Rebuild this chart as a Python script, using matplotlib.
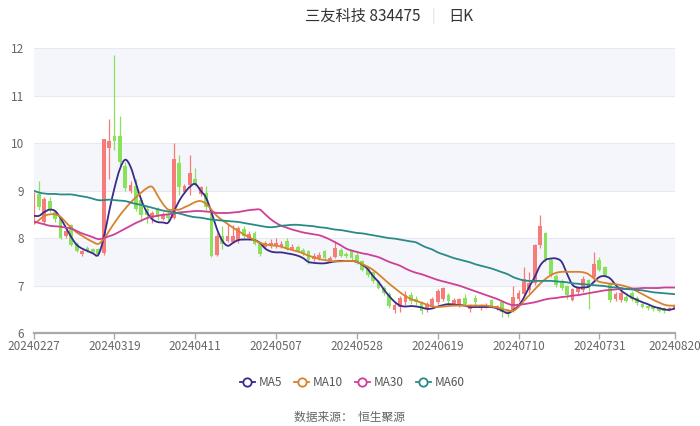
import matplotlib
matplotlib.use('Agg')
import matplotlib.pyplot as plt
from matplotlib.path import Path
from matplotlib.patches import PathPatch
from matplotlib.lines import Line2D

plt.rcParams['font.family'] = ['Noto Sans CJK SC', 'DejaVu Sans']

# daily candles, 20240227 .. 20240820 (120 trading days)
opens = [8.45, 8.92, 8.35, 8.78, 8.56, 8.42, 8.05, 8.28, 7.88, 7.66,
         7.80, 7.78, 7.78, 7.68, 9.90, 10.15, 10.15, 9.52, 9.00, 9.10,
         8.80, 8.62, 8.42, 8.62, 8.40, 8.50, 8.42, 9.58, 8.98, 9.12,
         9.25, 8.92, 8.95, 8.55, 7.64, 8.05, 7.95, 7.92, 7.95, 8.20,
         8.00, 8.10, 7.92, 7.82, 7.84, 7.84, 7.84, 7.95, 7.78, 7.82,
         7.76, 7.72, 7.56, 7.58, 7.72, 7.55, 7.60, 7.75, 7.66, 7.72,
         7.65, 7.52, 7.38, 7.28, 7.10, 6.95, 6.82, 6.48, 6.55, 6.65,
         6.80, 6.72, 6.65, 6.50, 6.58, 6.66, 6.72, 6.80, 6.62, 6.58,
         6.75, 6.50, 6.75, 6.52, 6.55, 6.70, 6.52, 6.65, 6.48, 6.48,
         6.72, 6.82, 6.90, 7.06, 7.85, 8.10, 7.54, 7.20, 7.10, 7.00,
         6.70, 6.86, 6.90, 7.12, 7.18, 7.55, 7.40, 7.05, 6.72, 6.70,
         6.76, 6.85, 6.75, 6.62, 6.58, 6.56, 6.54, 6.52, 6.49, 6.50]
closes = [8.95, 8.65, 8.83, 8.60, 8.40, 8.00, 8.15, 7.86, 7.72, 7.72,
          7.72, 7.70, 7.66, 10.08, 10.05, 10.05, 9.60, 9.06, 9.12, 8.62,
          8.48, 8.48, 8.52, 8.45, 8.50, 8.42, 9.66, 9.08, 9.10, 9.38,
          9.12, 9.08, 8.65, 7.62, 8.05, 7.88, 8.05, 8.05, 8.22, 8.05,
          8.08, 7.88, 7.67, 7.90, 7.90, 7.90, 7.88, 7.78, 7.82, 7.72,
          7.68, 7.55, 7.62, 7.65, 7.58, 7.58, 7.80, 7.62, 7.62, 7.58,
          7.48, 7.32, 7.22, 7.10, 6.95, 6.85, 6.58, 6.60, 6.74, 6.80,
          6.68, 6.65, 6.47, 6.62, 6.72, 6.88, 6.95, 6.68, 6.70, 6.72,
          6.62, 6.60, 6.65, 6.60, 6.60, 6.55, 6.57, 6.45, 6.42, 6.76,
          6.85, 7.14, 7.05, 7.85, 8.26, 7.56, 7.22, 7.02, 6.96, 6.80,
          6.92, 6.95, 7.15, 6.95, 7.45, 7.33, 7.22, 6.70, 6.82, 6.84,
          6.68, 6.72, 6.64, 6.55, 6.52, 6.50, 6.47, 6.47, 6.53, 6.58]
highs = [8.97, 9.20, 8.86, 8.87, 8.60, 8.45, 8.20, 8.30, 7.92, 7.75,
         7.84, 7.80, 7.80, 10.08, 10.50, 11.85, 10.58, 9.60, 9.20, 9.25,
         8.85, 8.68, 8.58, 8.66, 8.55, 8.55, 10.00, 9.75, 9.15, 9.75,
         9.48, 9.10, 9.10, 8.58, 8.10, 8.25, 8.30, 8.28, 8.25, 8.25,
         8.15, 8.15, 7.95, 7.95, 7.98, 8.00, 7.95, 8.00, 7.88, 7.85,
         7.80, 7.76, 7.68, 7.70, 7.76, 7.62, 7.95, 7.80, 7.70, 7.76,
         7.70, 7.55, 7.42, 7.30, 7.12, 7.00, 6.86, 6.65, 6.78, 6.88,
         6.86, 6.78, 6.68, 6.66, 6.76, 6.92, 6.98, 6.85, 6.74, 6.75,
         6.82, 6.62, 6.80, 6.62, 6.64, 6.72, 6.60, 6.68, 6.50, 7.00,
         6.90, 7.40, 7.28, 7.88, 8.48, 8.12, 7.58, 7.25, 7.15, 7.02,
         6.95, 6.98, 7.20, 7.15, 7.70, 7.60, 7.42, 7.08, 6.86, 6.88,
         6.80, 6.88, 6.78, 6.64, 6.60, 6.58, 6.56, 6.54, 6.56, 6.62]
lows = [8.30, 8.60, 8.30, 8.55, 8.35, 7.98, 8.00, 7.84, 7.70, 7.62,
        7.70, 7.68, 7.62, 7.65, 9.25, 9.85, 9.55, 9.00, 8.95, 8.58,
        8.40, 8.32, 8.32, 8.38, 8.38, 8.38, 8.40, 8.90, 8.95, 8.90,
        9.10, 8.88, 8.60, 7.60, 7.62, 7.78, 7.92, 7.90, 7.90, 8.00,
        7.98, 7.85, 7.62, 7.78, 7.80, 7.80, 7.80, 7.75, 7.74, 7.70,
        7.65, 7.45, 7.52, 7.55, 7.55, 7.52, 7.58, 7.60, 7.58, 7.55,
        7.45, 7.30, 7.18, 7.06, 6.92, 6.80, 6.52, 6.42, 6.45, 6.60,
        6.62, 6.60, 6.40, 6.45, 6.55, 6.62, 6.68, 6.62, 6.58, 6.55,
        6.60, 6.45, 6.60, 6.48, 6.52, 6.52, 6.48, 6.35, 6.33, 6.45,
        6.68, 6.78, 6.85, 7.02, 7.80, 7.50, 7.18, 6.98, 6.90, 6.72,
        6.68, 6.82, 6.86, 6.50, 7.08, 7.30, 7.18, 6.66, 6.68, 6.66,
        6.65, 6.68, 6.60, 6.52, 6.48, 6.46, 6.44, 6.42, 6.46, 6.48]

ma5 = [8.47, 8.47, 8.55, 8.60, 8.57, 8.42, 8.22, 8.02, 7.86, 7.78,
       7.73, 7.68, 7.65, 8.00, 8.55, 9.05, 9.45, 9.65, 9.50, 9.15,
       8.80, 8.55, 8.40, 8.34, 8.33, 8.33, 8.55, 8.78, 8.95, 9.08,
       9.14, 9.00, 8.85, 8.55, 8.20, 7.95, 7.84, 7.90, 7.96, 7.97,
       7.97, 7.96, 7.90, 7.78, 7.72, 7.70, 7.70, 7.68, 7.66, 7.63,
       7.58, 7.50, 7.48, 7.47, 7.47, 7.49, 7.51, 7.52, 7.52, 7.52,
       7.50, 7.44, 7.35, 7.20, 7.08, 6.92, 6.78, 6.66, 6.58, 6.56,
       6.57, 6.56, 6.54, 6.51, 6.52, 6.56, 6.59, 6.61, 6.60, 6.59,
       6.58, 6.55, 6.55, 6.55, 6.55, 6.55, 6.52, 6.47, 6.42, 6.48,
       6.58, 6.75, 6.98, 7.18, 7.42, 7.54, 7.57, 7.57, 7.50, 7.25,
       7.02, 6.96, 6.96, 6.98, 7.08, 7.18, 7.20, 7.15, 7.02, 6.90,
       6.82, 6.75, 6.70, 6.65, 6.61, 6.56, 6.53, 6.50, 6.49, 6.52]
ma10 = [8.30, 8.38, 8.47, 8.50, 8.50, 8.45, 8.33, 8.22, 8.12, 8.05,
        7.98, 7.92, 7.88, 7.98, 8.15, 8.32, 8.48, 8.62, 8.75, 8.86,
        8.96, 9.05, 9.08, 8.90, 8.72, 8.60, 8.60, 8.60, 8.65, 8.70,
        8.76, 8.78, 8.72, 8.60, 8.47, 8.38, 8.30, 8.22, 8.15, 8.08,
        8.02, 7.96, 7.90, 7.87, 7.85, 7.84, 7.82, 7.78, 7.75, 7.72,
        7.68, 7.63, 7.60, 7.56, 7.54, 7.52, 7.51, 7.51, 7.52, 7.52,
        7.50, 7.45, 7.40, 7.33, 7.24, 7.14, 7.04, 6.95, 6.86, 6.78,
        6.72, 6.68, 6.64, 6.60, 6.56, 6.55, 6.56, 6.57, 6.58, 6.58,
        6.58, 6.58, 6.58, 6.58, 6.58, 6.56, 6.54, 6.51, 6.48, 6.47,
        6.55, 6.68, 6.80, 6.92, 7.04, 7.14, 7.22, 7.27, 7.29, 7.29,
        7.29, 7.29, 7.28, 7.24, 7.15, 7.08, 7.06, 7.04, 7.03, 7.01,
        6.98, 6.94, 6.88, 6.82, 6.76, 6.70, 6.65, 6.60, 6.58, 6.58]
ma30 = [8.35, 8.32, 8.29, 8.26, 8.25, 8.24, 8.22, 8.20, 8.15, 8.10,
        8.06, 8.02, 7.98, 8.00, 8.04, 8.08, 8.14, 8.20, 8.26, 8.32,
        8.37, 8.42, 8.45, 8.47, 8.49, 8.50, 8.52, 8.54, 8.55, 8.56,
        8.57, 8.57, 8.56, 8.55, 8.53, 8.53, 8.53, 8.54, 8.55, 8.57,
        8.59, 8.60, 8.60, 8.50, 8.40, 8.32, 8.26, 8.22, 8.18, 8.15,
        8.12, 8.10, 8.08, 8.06, 8.02, 7.97, 7.91, 7.85, 7.78, 7.74,
        7.71, 7.68, 7.66, 7.63, 7.60, 7.55, 7.50, 7.46, 7.42, 7.36,
        7.31, 7.27, 7.24, 7.20, 7.16, 7.12, 7.09, 7.06, 7.03, 7.00,
        6.96, 6.92, 6.88, 6.84, 6.80, 6.76, 6.72, 6.67, 6.62, 6.59,
        6.60, 6.61, 6.63, 6.65, 6.68, 6.71, 6.73, 6.74, 6.76, 6.77,
        6.79, 6.80, 6.82, 6.84, 6.86, 6.88, 6.90, 6.91, 6.92, 6.93,
        6.93, 6.94, 6.94, 6.95, 6.95, 6.95, 6.95, 6.96, 6.96, 6.96]
ma60 = [9.00, 8.96, 8.94, 8.93, 8.93, 8.92, 8.92, 8.92, 8.90, 8.88,
        8.86, 8.83, 8.80, 8.80, 8.81, 8.80, 8.79, 8.78, 8.75, 8.72,
        8.70, 8.67, 8.64, 8.61, 8.58, 8.56, 8.54, 8.52, 8.49, 8.46,
        8.44, 8.43, 8.41, 8.39, 8.38, 8.37, 8.36, 8.35, 8.34, 8.32,
        8.30, 8.28, 8.26, 8.24, 8.23, 8.24, 8.26, 8.27, 8.28, 8.28,
        8.27, 8.26, 8.25, 8.23, 8.22, 8.20, 8.18, 8.17, 8.15, 8.13,
        8.11, 8.10, 8.08, 8.06, 8.04, 8.02, 8.00, 7.99, 7.97, 7.95,
        7.93, 7.91, 7.85, 7.80, 7.76, 7.70, 7.66, 7.62, 7.58, 7.55,
        7.52, 7.49, 7.45, 7.42, 7.39, 7.36, 7.32, 7.28, 7.24, 7.18,
        7.14, 7.11, 7.10, 7.10, 7.10, 7.10, 7.10, 7.09, 7.08, 7.07,
        7.05, 7.04, 7.03, 7.02, 7.01, 7.00, 6.99, 6.97, 6.96, 6.95,
        6.93, 6.92, 6.91, 6.90, 6.88, 6.86, 6.85, 6.84, 6.83, 6.82]

tick_pos = [0, 15, 30, 45, 60, 75, 90, 105, 119]
tick_labels = ['20240227', '20240319', '20240411', '20240507', '20240528',
               '20240619', '20240710', '20240731', '20240820']
ma_names = ['MA5', 'MA10', 'MA30', 'MA60']
ma_colors = ['#3a2a8a', '#d9822b', '#cf3f98', '#2a8a88']

UP = '#f67c7a'
DOWN = '#8ae25c'


def smooth_line(ax, xs, ys, color, t=0.18):
    pts = list(zip(xs, ys))
    verts = [pts[0]]
    codes = [Path.MOVETO]
    n = len(pts)
    for i in range(n - 1):
        p0 = pts[i - 1] if i > 0 else pts[i]
        p1 = pts[i]
        p2 = pts[i + 1]
        p3 = pts[i + 2] if i + 2 < n else pts[i + 1]
        c1 = (p1[0] + (p2[0] - p0[0]) * t, p1[1] + (p2[1] - p0[1]) * t)
        c2 = (p2[0] - (p3[0] - p1[0]) * t, p2[1] - (p3[1] - p1[1]) * t)
        verts += [c1, c2, p2]
        codes += [Path.CURVE4] * 3
    ax.add_patch(PathPatch(Path(verts, codes), fill=False, edgecolor=color,
                           linewidth=1.3, zorder=5, capstyle='round'))


fig = plt.figure(figsize=(7, 4.26), dpi=100)
ax = fig.add_axes([0.048, 0.218, 0.916, 0.669])

# alternating background bands
for lo in range(6, 12):
    col = '#f4f6fb' if lo % 2 == 1 else 'white'
    ax.axhspan(lo, lo + 1, color=col, zorder=0, linewidth=0)
for v in range(7, 13):
    ax.axhline(v, color='#e6e9f0', linewidth=0.8, zorder=1)

x = list(range(len(opens)))
for i in x:
    o, c, h, l = opens[i], closes[i], highs[i], lows[i]
    col = UP if c >= o else DOWN
    ax.vlines(i, l, h, color=col, linewidth=0.9, zorder=3)
    bottom = min(o, c)
    height = max(abs(c - o), 0.015)
    ax.bar(i, height, bottom=bottom, width=0.7, color=col, linewidth=0, zorder=3)

for vals, col in zip([ma5, ma10, ma30, ma60], ma_colors):
    smooth_line(ax, x, vals, col)

ax.set_xlim(0, len(opens) - 1)
ax.set_ylim(6, 12)
ax.set_yticks(range(6, 13))
ax.set_xticks(tick_pos)
ax.set_xticklabels(tick_labels)
ax.tick_params(axis='y', length=0, labelsize=8.5, labelcolor='#666666', pad=7)
ax.tick_params(axis='x', length=4, width=1, color='#aaaaaa', labelsize=8.5,
               labelcolor='#666666', pad=1)
for side in ['top', 'right', 'left']:
    ax.spines[side].set_visible(False)
ax.spines['bottom'].set_color('#aaaaaa')
ax.spines['bottom'].set_linewidth(1.6)

fig.text(0.601, 0.962, '三友科技 834475', ha='right', va='center', fontsize=11, color='#333333')
fig.text(0.619, 0.962, '|', ha='center', va='center', fontsize=10, color='#dddddd')
fig.text(0.641, 0.962, '日K', ha='left', va='center', fontsize=11, color='#333333')

handles = [Line2D([0], [0], color=c, linewidth=1.3, marker='o', markersize=6,
                  markerfacecolor='white', markeredgewidth=1.3) for c in ma_colors]
fig.legend(handles, ma_names, loc='center', bbox_to_anchor=(0.503, 0.101), ncol=4,
           frameon=False, fontsize=8.5, handlelength=1.3, handletextpad=0.3,
           columnspacing=1.0, labelcolor='#555555')

fig.text(0.5, 0.021, '数据来源：  恒生聚源', ha='center', va='center', fontsize=8.5, color='#666666')

fig.savefig('out.png', dpi=100)
